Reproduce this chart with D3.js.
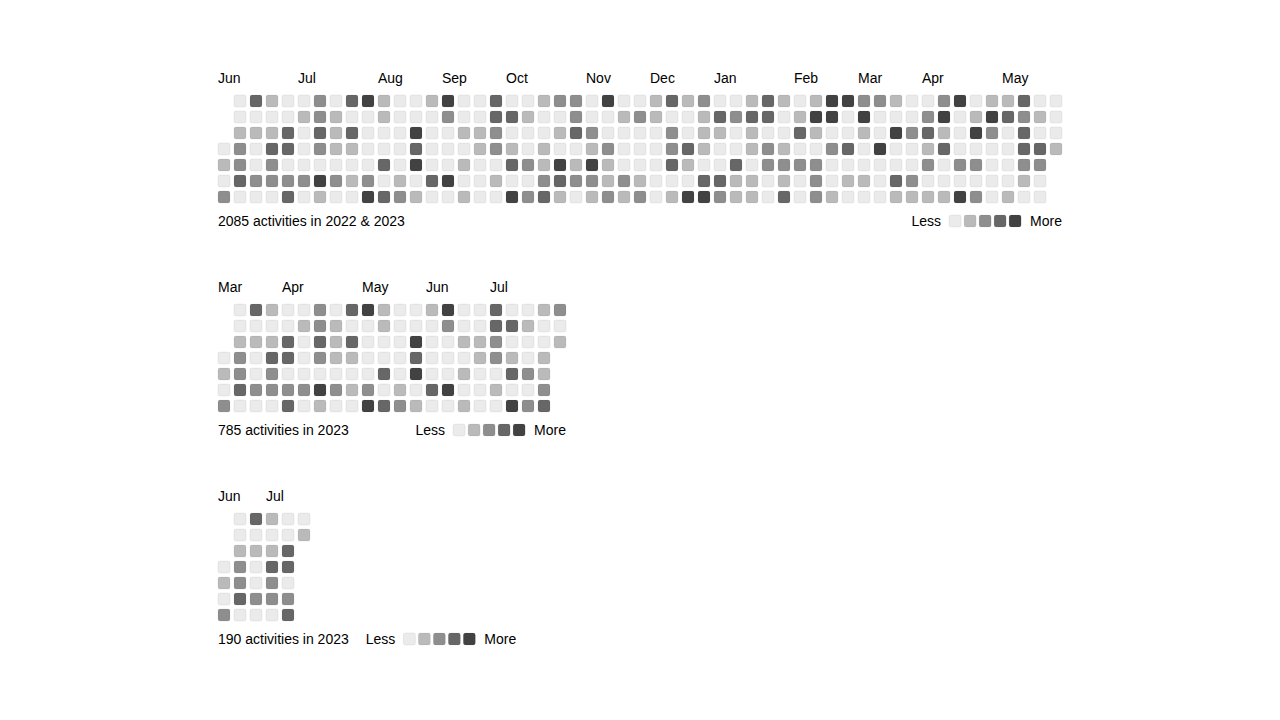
<!DOCTYPE html>
<html>
<head>
<meta charset="utf-8">
<script src="https://cdn.jsdelivr.net/npm/d3@7"></script>
<style>
  html, body { margin: 0; padding: 0; background: #ffffff; }
  svg { display: block; font-family: "Liberation Sans", Arial, Helvetica, sans-serif; font-size: 14px; }
</style>
</head>
<body>
<svg id="chart" width="1280" height="720"></svg>
<script>
// ---------- DATA ----------
// Activity level (0..4) per day, in day order. Week rows run Sunday..Saturday.
const levelColors = ["#ebebeb", "#bababa", "#8e8e8e", "#676767", "#424242"];
const weekdays = [0, 1, 2, 3, 4, 5, 6];

// Calendar 1: Jun 2022 – May 2023 (first day is a Wednesday)
const levels1 = [
  0,1,0,2,
  0,0,1,2,2,3,0,
  3,0,1,0,0,2,0,
  1,0,1,3,2,2,0,
  0,0,3,3,0,2,3,
  0,1,0,0,0,2,0,
  2,2,3,2,0,4,1,
  0,1,1,1,0,2,0,
  3,0,3,1,0,1,0,
  4,0,0,0,0,2,4,
  1,1,0,0,3,0,3,
  0,0,0,0,0,1,2,
  0,0,4,3,4,0,1,
  1,0,0,0,0,3,0,
  4,2,0,0,0,4,0,
  0,0,1,0,1,0,1,
  0,0,1,1,0,0,0,
  3,3,2,2,0,1,0,
  0,3,0,1,3,0,4,
  0,1,0,0,2,0,2,
  1,0,0,1,1,2,3,
  2,0,1,0,4,3,1,
  2,2,3,0,1,2,0,
  0,0,2,1,4,2,1,
  4,0,0,2,1,1,2,
  0,1,0,0,0,2,1,
  0,2,0,0,0,1,2,
  1,1,0,0,0,0,0,
  3,0,2,2,3,0,1,
  1,0,0,3,1,0,4,
  2,1,1,1,0,3,4,
  0,3,1,0,0,3,2,
  0,2,0,0,3,1,1,
  1,3,1,1,0,1,1,
  3,3,0,2,2,0,0,
  1,0,0,1,2,1,3,
  0,1,3,0,2,0,0,
  1,4,1,0,2,2,2,
  4,4,0,2,0,0,1,
  4,0,0,3,0,1,0,
  2,4,1,0,0,1,0,
  2,0,0,4,0,0,0,
  1,0,4,0,0,3,1,
  0,0,2,0,0,2,1,
  0,2,3,1,2,0,1,
  2,4,1,3,0,0,1,
  4,0,0,0,2,0,4,
  0,1,4,0,2,0,2,
  1,4,2,0,0,0,0,
  1,3,0,0,0,0,1,
  3,2,3,3,2,1,0,
  0,1,0,3,2,0,0,
  0,0,0,1
];
const startWeekday1 = 3;
const months1 = ["Jun", "Jul", "Aug", "Sep", "Oct", "Nov", "Dec", "Jan", "Feb", "Mar", "Apr", "May"];
const monthWeeks1 = [0, 5, 10, 14, 18, 23, 27, 31, 36, 40, 44, 49];
const footer1 = "2085 activities in 2022 & 2023";

// Calendar 2: Mar – Jul 2023
const levels2 = [
  0,1,0,2,
  0,0,1,2,2,3,0,
  3,0,1,0,0,2,0,
  1,0,1,3,2,2,0,
  0,0,3,3,0,2,3,
  0,1,0,0,0,2,0,
  2,2,3,2,0,4,1,
  0,1,1,1,0,2,0,
  3,0,3,1,0,1,0,
  4,0,0,0,0,2,4,
  1,1,0,0,3,0,3,
  0,0,0,0,0,1,2,
  0,0,4,3,4,0,1,
  1,0,0,0,0,3,0,
  4,2,0,0,0,4,0,
  0,0,1,0,1,0,1,
  0,0,1,1,0,0,0,
  3,3,2,2,0,1,0,
  0,3,0,1,3,0,4,
  0,1,0,0,2,0,2,
  1,0,0,1,1,2,3,
  2,0,1
];
const startWeekday2 = 3;
const months2 = ["Mar", "Apr", "May", "Jun", "Jul"];
const monthWeeks2 = [0, 4, 9, 13, 17];
const footer2 = "785 activities in 2023";

// Calendar 3: Jun – Jul 2023
const levels3 = [
  0,1,0,2,
  0,0,1,2,2,3,0,
  3,0,1,0,0,2,0,
  1,0,1,3,2,2,0,
  0,0,3,3,0,2,3,
  0,1
];
const startWeekday3 = 3;
const months3 = ["Jun", "Jul"];
const monthWeeks3 = [0, 3];
const footer3 = "190 activities in 2023";

const legendLevels = [0, 1, 2, 3, 4];

// ---------- DRAWING ----------
const calendars = [
  { levels: levels1, start: startWeekday1, months: months1, monthWeeks: monthWeeks1, footer: footer1 },
  { levels: levels2, start: startWeekday2, months: months2, monthWeeks: monthWeeks2, footer: footer2 },
  { levels: levels3, start: startWeekday3, months: months3, monthWeeks: monthWeeks3, footer: footer3 }
];
const tops = [95, 304, 513];
const left = 218;
const block = 12, step = 16, legendStep = 15;

const svg = d3.select("#chart");
const color = d3.scaleOrdinal().domain(legendLevels).range(levelColors);

calendars.forEach((cal, ci) => {
  const days = cal.levels.map((lv, i) => {
    const p = i + cal.start;
    return { level: lv, week: Math.floor(p / 7), dow: p % 7 };
  });
  const nWeeks = d3.max(days, d => d.week) + 1;
  const gridW = nWeeks * step - (step - block);

  const x = d3.scaleBand().domain(d3.range(nWeeks)).range([0, gridW]).paddingInner((step - block) / step);
  const y = d3.scaleBand().domain(weekdays).range([0, 7 * step - (step - block)]).paddingInner((step - block) / step);

  const g = svg.append("g").attr("transform", `translate(${left},${tops[ci]})`);

  // month labels
  g.selectAll("text.month").data(cal.months).join("text")
    .attr("class", "month")
    .attr("x", (m, i) => x(cal.monthWeeks[i]))
    .attr("y", -12)
    .attr("fill", "#000")
    .text(m => m);

  // day cells
  g.selectAll("rect.day").data(days).join("rect")
    .attr("class", "day")
    .attr("x", d => x(d.week))
    .attr("y", d => y(d.dow))
    .attr("width", x.bandwidth())
    .attr("height", y.bandwidth())
    .attr("rx", 2).attr("ry", 2)
    .attr("fill", d => color(d.level))
    .attr("stroke", "rgba(0,0,0,0.06)")
    .attr("stroke-width", 1);

  // footer: count
  const footY = 131;
  const countText = g.append("text").attr("x", 0).attr("y", footY).attr("fill", "#000").text(cal.footer);
  const countW = countText.node().getComputedTextLength();

  // legend
  const lessText = g.append("text").attr("y", footY).attr("fill", "#000").text("Less");
  const moreText = g.append("text").attr("y", footY).attr("fill", "#000").text("More");
  const lessW = lessText.node().getComputedTextLength();
  const moreW = moreText.node().getComputedTextLength();
  const gapL = 8, gapR = 9;
  const squaresW = (legendLevels.length - 1) * legendStep + block;
  const legendW = lessW + gapL + squaresW + gapR + moreW;
  const legendX = Math.max(gridW - legendW, countW + 17);

  lessText.attr("x", legendX);
  const sqX = legendX + lessW + gapL;
  const lx = d3.scaleLinear().domain([0, 1]).range([sqX, sqX + legendStep]);
  g.selectAll("rect.legend").data(legendLevels).join("rect")
    .attr("class", "legend")
    .attr("x", (d, i) => lx(i))
    .attr("y", 120)
    .attr("width", block).attr("height", block)
    .attr("rx", 2).attr("ry", 2)
    .attr("fill", d => color(d))
    .attr("stroke", "rgba(0,0,0,0.06)")
    .attr("stroke-width", 1);
  moreText.attr("x", sqX + squaresW + gapR);
});
</script>
</body>
</html>
